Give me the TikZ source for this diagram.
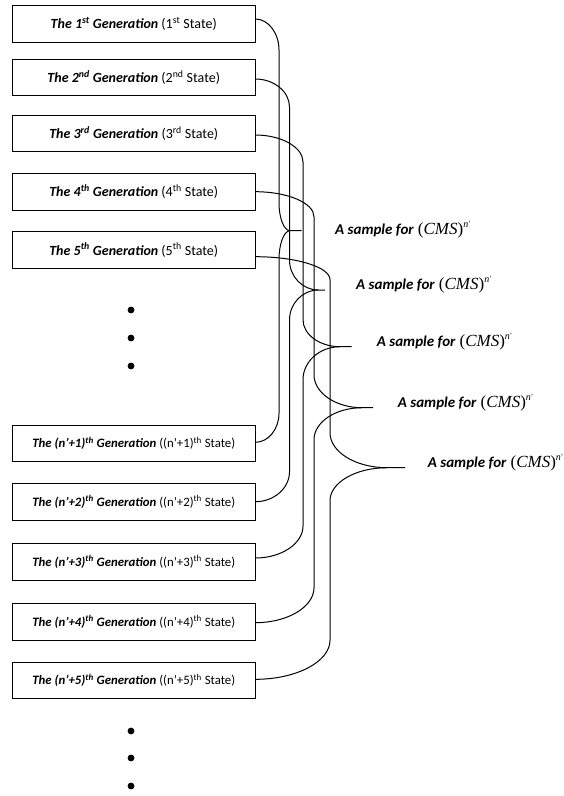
\documentclass[tikz,border=0pt]{standalone}
\usepackage{fontspec}
\setmainfont{Carlito}
\newfontfamily\tnr{Liberation Serif}
\begin{document}
\begin{tikzpicture}[x=1pt,y=-1pt,
  genbox/.style={draw,line width=0.9pt,minimum width=242.5pt,minimum height=36.7pt,inner sep=0pt,font=\fontsize{14}{15}\selectfont},
  gennbox/.style={genbox,font=\fontsize{12.8}{15}\selectfont},
  conn/.style={line width=1pt},
  dotnode/.style={circle,fill=black,inner sep=0pt,minimum size=6.8pt},
  lab/.style={anchor=west,inner sep=0pt,font=\fontsize{15}{17}\selectfont}]
\useasboundingbox (0,0) rectangle (564,796);
\newcommand\gen[2]{\textbf{\textit{The #1\textsuperscript{#2} Generation}} (#1\textsuperscript{#2} State)}
\newcommand\genn[1]{\textbf{\textit{The (n’+#1)\textsuperscript{th} Generation}} ((n’+#1)\textsuperscript{th} State)}
\newcommand\samp{\textbf{\textit{A sample for}}\hspace{4pt}{\tnr\fontsize{17}{19}\selectfont(\textit{CMS})\raisebox{7pt}{\fontsize{10}{11}\selectfont\textit{n}\kern0.5pt\raisebox{1pt}{\fontsize{8}{9}\selectfont'}}}}
% boxes
\node[genbox] (g1) at (133.75,23.7)  {\gen{1}{st}};
\node[genbox] (g2) at (133.75,77.3)  {\gen{2}{nd}};
\node[genbox] (g3) at (133.75,133.3) {\gen{3}{rd}};
\node[genbox] (g4) at (133.75,191.7) {\gen{4}{th}};
\node[genbox] (g5) at (133.75,250)   {\gen{5}{th}};
\node[gennbox] (h1) at (133.75,443.5) {\genn{1}};
\node[gennbox] (h2) at (133.75,501.7) {\genn{2}};
\node[gennbox] (h3) at (133.75,561.7) {\genn{3}};
\node[gennbox] (h4) at (133.75,621.7) {\genn{4}};
\node[gennbox] (h5) at (133.75,680.5) {\genn{5}};
% dots
\node[dotnode] (d1) at (131,310) {};
\node[dotnode] (d2) at (131,338) {};
\node[dotnode] (d3) at (131,366) {};
\node[dotnode] (d4) at (131,731) {};
\node[dotnode] (d5) at (131,758) {};
\node[dotnode] (d6) at (131,786) {};
% braces: k / xv / ys / yb / yt / xj / xe / dt / du / dl / db / labx / laby
\foreach \k/\xv/\ys/\yb/\yt/\xj/\xe/\dt/\du/\dl/\db/\lx/\ly in {
  1/279/19/442.3/230.7/290/301.7/31/28/29/29/335/230,
  2/289.5/79/501.7/290/318.3/325/28/30/30/30/356/285,
  3/303/135/558/346.7/340/351.7/27/27/33/32/376.7/341.7,
  4/314/191.7/622.7/407.7/362/373/25/33/32/35/397.7/403,
  5/330/256.7/679.3/467.7/387/405/23/35/33/39/427.7/463} {
  \coordinate (t\k) at (\xj,\yt);
  \coordinate (e\k) at (\xe,\yt);
  \node[lab] (L\k) at (\lx,\ly) {\samp};
  \draw[conn] (g\k.east |- 0,\ys) .. controls ({255+0.55*(\xv-255)},\ys) and (\xv,{\ys+0.45*\dt}) .. (\xv,{\ys+\dt})
     -- (\xv,{\yt-\du}) .. controls (\xv,{\yt-0.45*\du}) and ({\xj-0.55*(\xj-\xv)},\yt) .. (t\k) -- (e\k);
  \draw[conn] (t\k) .. controls ({\xj-0.55*(\xj-\xv)},\yt) and (\xv,{\yt+0.45*\dl}) .. (\xv,{\yt+\dl})
     -- (\xv,{\yb-\db}) .. controls (\xv,{\yb-0.45*\db}) and ({255+0.55*(\xv-255)},\yb) .. (h\k.east |- 0,\yb);
}
\end{tikzpicture}
\end{document}
